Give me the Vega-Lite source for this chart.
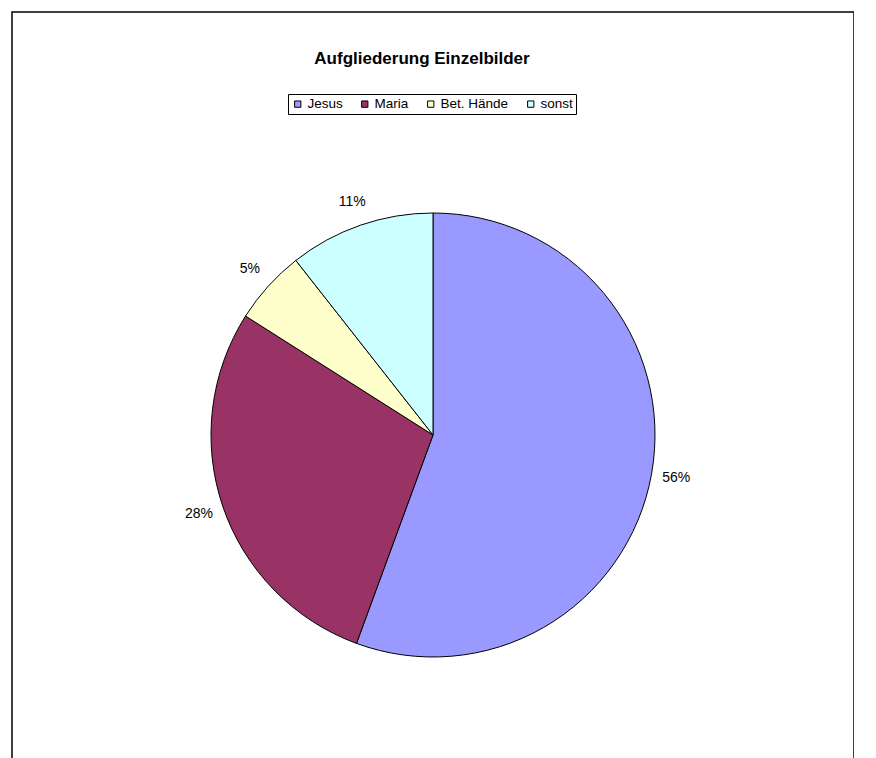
{
  "$schema": "https://vega.github.io/schema/vega-lite/v6.json",
  "width": 842,
  "height": 846,
  "autosize": {"type": "none"},
  "padding": {"left": 12, "top": 12, "right": 0, "bottom": 0},
  "background": "white",
  "view": {"stroke": "black", "strokeWidth": 1.5, "fill": "white"},
  "title": {
    "text": "Aufgliederung Einzelbilder",
    "font": "Liberation Sans",
    "fontSize": 17,
    "fontWeight": "bold",
    "color": "black",
    "frame": "group",
    "anchor": "middle",
    "baseline": "middle",
    "offset": -64,
    "dx": -11
  },
  "data": {
    "values": [
      {"kategorie": "Jesus", "anteil": 55.6, "label": "56%", "ord": 1},
      {"kategorie": "Maria", "anteil": 28.4, "label": "28%", "ord": 2},
      {"kategorie": "Bet. Hände", "anteil": 5.4, "label": "5%", "ord": 3},
      {"kategorie": "sonst", "anteil": 10.6, "label": "11%", "ord": 4}
    ]
  },
  "encoding": {
    "theta": {"field": "anteil", "type": "quantitative", "stack": true},
    "order": {"field": "ord", "type": "quantitative"}
  },
  "layer": [
    {
      "mark": {"type": "arc", "outerRadius": 222, "stroke": "black", "strokeWidth": 1},
      "encoding": {
        "color": {
          "field": "kategorie",
          "type": "nominal",
          "sort": ["Jesus", "Maria", "Bet. Hände", "sonst"],
          "scale": {
            "domain": ["Jesus", "Maria", "Bet. Hände", "sonst"],
            "range": ["#9999FF", "#993366", "#FFFFCC", "#CCFFFF"]
          },
          "legend": {
            "title": null,
            "orient": "none",
            "legendX": 276,
            "legendY": 82,
            "direction": "horizontal",
            "columns": 4,
            "strokeColor": "black",
            "padding": 3,
            "symbolType": "square",
            "symbolSize": 40,
            "symbolStrokeColor": "black",
            "symbolStrokeWidth": 1,
            "labelFont": "Liberation Sans",
            "labelFontSize": 13.5,
            "labelColor": "black",
            "labelOffset": 3,
            "columnPadding": 15
          }
        }
      }
    },
    {
      "mark": {"type": "text", "radius": 247, "font": "Liberation Sans", "fontSize": 14, "fill": "black", "align": "center", "baseline": "middle"},
      "encoding": {
        "text": {"field": "label", "type": "nominal"}
      }
    }
  ]
}
